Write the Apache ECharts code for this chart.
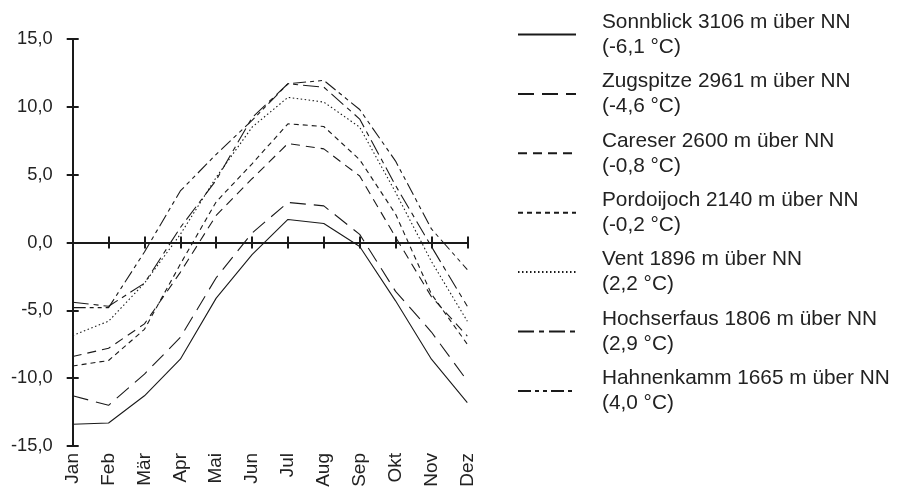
<!DOCTYPE html>
<html>
<head>
<meta charset="utf-8">
<script src="https://cdn.jsdelivr.net/npm/echarts@6/dist/echarts.min.js"></script>
<style>
html,body{margin:0;padding:0;background:#fff;}
#chart{width:909px;height:492px;}
</style>
</head>
<body>
<div id="chart"></div>
<script>
// Categories
const months = ['Jan','Feb','Mär','Apr','Mai','Jun','Jul','Aug','Sep','Okt','Nov','Dez'];
// Station labels and annual means
const stationNames = [
  'Sonnblick 3106 m über NN',
  'Zugspitze 2961 m über NN',
  'Careser 2600 m über NN',
  'Pordoijoch 2140 m über NN',
  'Vent 1896 m über NN',
  'Hochserfaus 1806 m über NN',
  'Hahnenkamm 1665 m über NN'
];
const stationMeans = ['(-6,1 °C)','(-4,6 °C)','(-0,8 °C)','(-0,2 °C)','(2,2 °C)','(2,9 °C)','(4,0 °C)'];
// Monthly mean temperatures (°C)
const sonnblick   = [-13.4, -13.3, -11.3, -8.6, -4.1, -0.9, 1.7, 1.4, -0.3, -4.3, -8.6, -11.8];
const zugspitze   = [-11.3, -12.0, -9.7, -7.0, -2.6, 0.7, 2.95, 2.7, 0.6, -3.6, -6.6, -10.2];
const careser     = [-8.4, -7.8, -6.0, -2.2, 2.0, 4.7, 7.3, 6.9, 4.9, 0.4, -4.0, -6.9];
const pordoijoch  = [-9.1, -8.7, -6.4, -1.6, 3.0, 5.8, 8.75, 8.55, 6.1, 2.1, -3.8, -7.5];
const vent        = [-6.85, -5.8, -3.0, 0.6, 4.8, 8.5, 10.7, 10.35, 8.5, 3.7, -1.4, -5.8];
const hochserfaus = [-4.4, -4.7, -3.0, 1.1, 4.6, 9.2, 11.7, 11.45, 9.1, 4.2, -0.3, -4.7];
const hahnenkamm  = [-4.8, -4.8, -0.7, 3.8, 6.5, 9.0, 11.7, 11.95, 9.8, 6.0, 1.0, -2.0];
// Y tick settings
const yMin = -15, yMax = 15, yStep = 5;

const seriesData = [sonnblick, zugspitze, careser, pordoijoch, vent, hochserfaus, hahnenkamm];
const dashes = ['solid', [16, 8], [9, 6], [5, 4], [1.5, 2.5], [16, 5, 5, 5], [13, 4, 4, 4, 4, 4]];

const INK = '#1a1a1a';
const FONT = 'Liberation Sans, Arial, Helvetica, sans-serif';
const gridRect = {left: 72.7, right: 441.7, top: 39, bottom: 46, outerBoundsMode: 'none'};

const chart = echarts.init(document.getElementById('chart'), null, {renderer: 'canvas'});
chart.setOption({
  animation: false,
  backgroundColor: '#fff',
  grid: [Object.assign({}, gridRect), Object.assign({}, gridRect)],
  legend: {
    orient: 'vertical',
    left: 512,
    top: 2,
    itemWidth: 58,
    itemHeight: 14,
    itemGap: 4.4,
    data: stationNames,
    itemStyle: {color: 'transparent', borderColor: 'transparent', borderWidth: 0, opacity: 0},
    formatter: function (name) {
      const i = stationNames.indexOf(name);
      return name + '\n' + stationMeans[i];
    },
    textStyle: {fontSize: 20.8, lineHeight: 25, color: '#222', fontFamily: FONT, padding: [5, 0, 0, 21]}
  },
  xAxis: [
    {
      gridIndex: 0, type: 'category', data: months, boundaryGap: false, position: 'bottom',
      axisLine: {show: false, onZero: false},
      axisTick: {show: false},
      axisLabel: {rotate: 90, margin: 7, fontSize: 19, color: '#222', fontFamily: FONT},
      splitLine: {show: false}
    },
    {
      gridIndex: 0, type: 'category', data: months, boundaryGap: false, position: 'top',
      axisLine: {show: true, onZero: true, lineStyle: {color: INK, width: 2}},
      axisTick: {show: true, inside: false, length: 6, lineStyle: {color: INK, width: 2}},
      axisLabel: {show: false},
      splitLine: {show: false}
    },
    {
      gridIndex: 1, type: 'category', data: months, boundaryGap: false, position: 'bottom',
      axisLine: {show: true, onZero: true, lineStyle: {color: INK, width: 2}},
      axisTick: {show: true, inside: false, length: 6, lineStyle: {color: INK, width: 2}},
      axisLabel: {show: false},
      splitLine: {show: false}
    }
  ],
  yAxis: [
    {
      gridIndex: 0, type: 'value', min: yMin, max: yMax, interval: yStep,
      axisLine: {show: true, onZero: false, lineStyle: {color: INK, width: 2}},
      axisTick: {show: true, inside: false, length: 6, lineStyle: {color: INK, width: 2}},
      axisLabel: {margin: 20, fontSize: 18.3, color: '#222', fontFamily: FONT,
        formatter: function (v) { return v.toFixed(1).replace('.', ','); }},
      splitLine: {show: false}
    },
    {
      gridIndex: 1, type: 'value', min: yMin, max: yMax, interval: yStep,
      axisLine: {show: true, onZero: false, lineStyle: {color: INK, width: 2}},
      axisTick: {show: true, inside: true, length: 6, lineStyle: {color: INK, width: 2}},
      axisLabel: {show: false},
      splitLine: {show: false}
    }
  ],
  series: seriesData.map(function (d, i) {
    return {
      name: stationNames[i],
      type: 'line',
      xAxisIndex: 0,
      yAxisIndex: 0,
      data: d,
      symbol: 'none',
      showSymbol: false,
      lineStyle: {color: INK, width: 1.1, type: dashes[i]},
      itemStyle: {color: INK},
      z: 3
    };
  })
});
</script>
</body>
</html>
